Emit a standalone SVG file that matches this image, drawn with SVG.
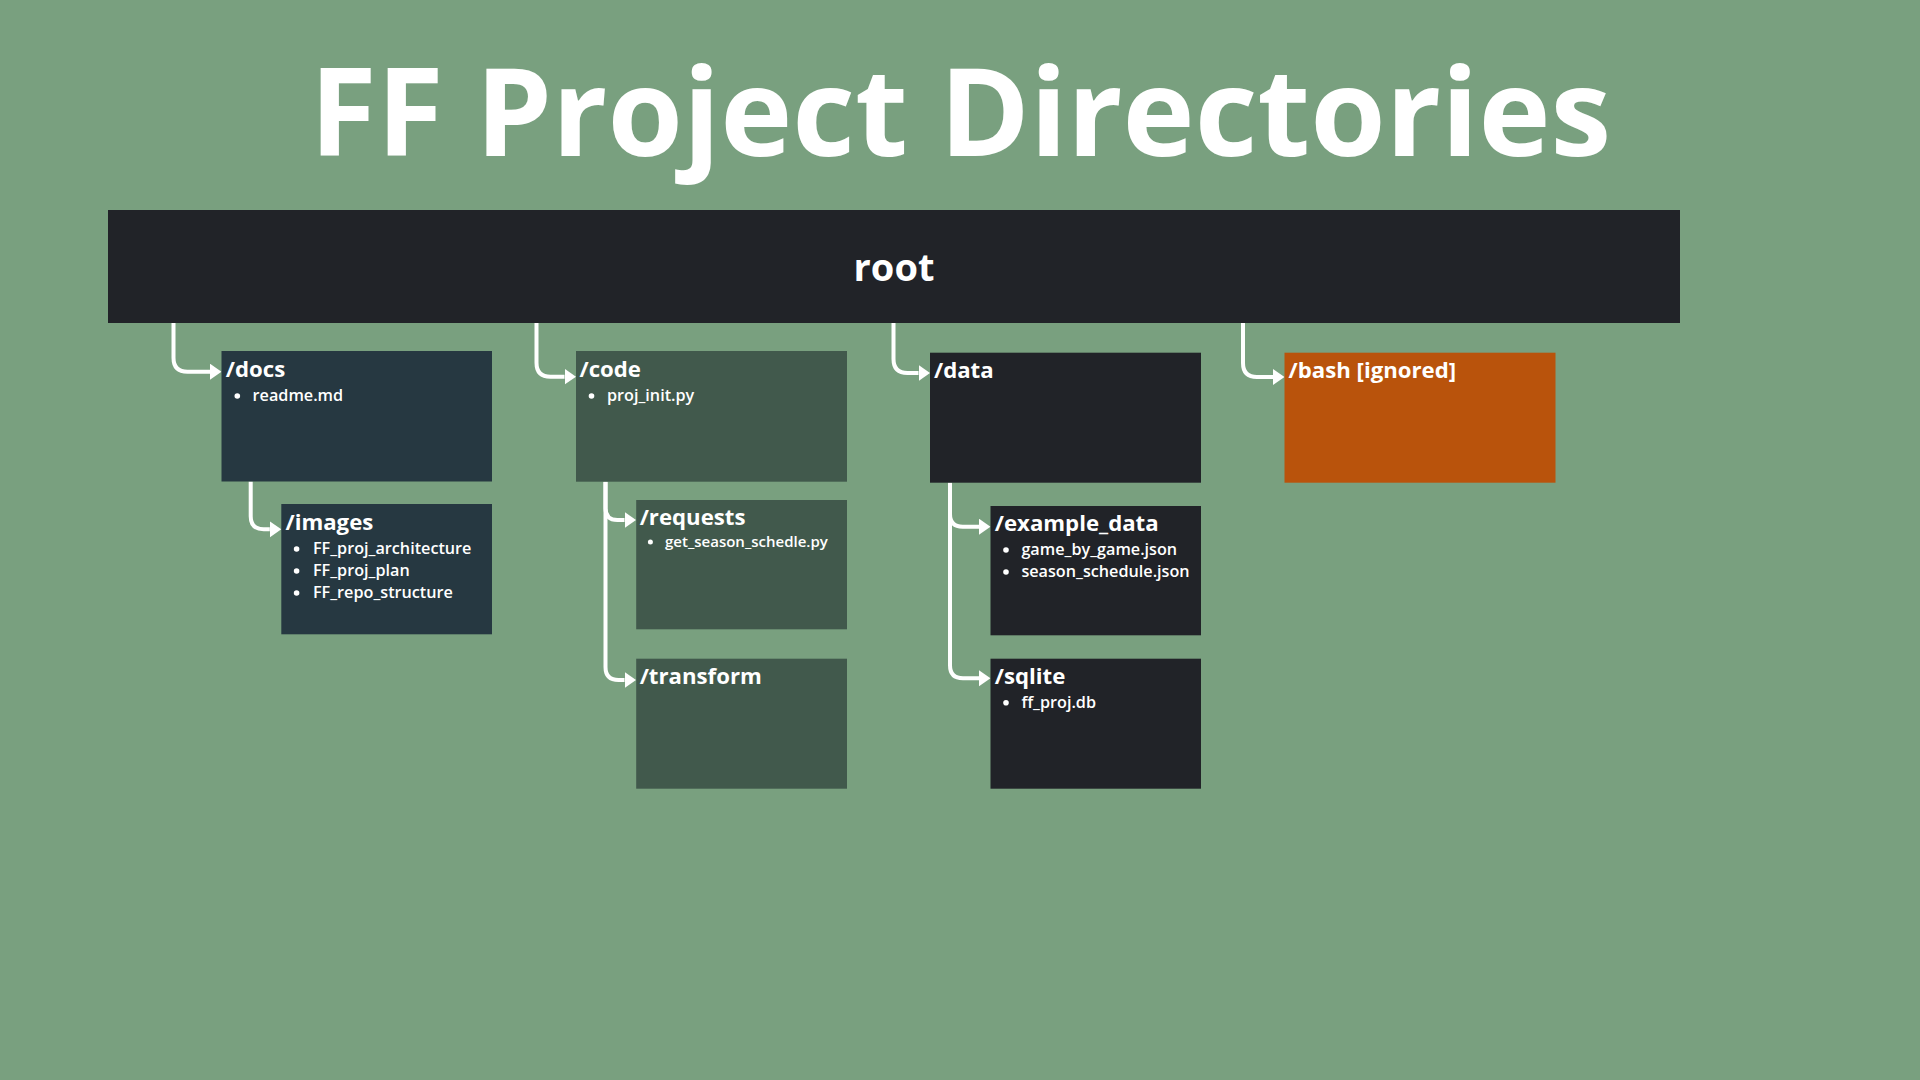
<svg xmlns="http://www.w3.org/2000/svg" width="1920" height="1080" viewBox="0 0 1920 1080">
  <defs>
    <style>
      .title { font-family: "Open Sans", "Liberation Sans", sans-serif; font-weight: 700; fill: #ffffff; }
      .hd { font-family: "Open Sans", "Liberation Sans", sans-serif; font-weight: 700; font-size: 22.2px; fill: #ffffff; }
      .it { font-family: "Open Sans", "Liberation Sans", sans-serif; font-weight: 600; font-size: 16.2px; fill: #ffffff; }
      .it2 { font-family: "Open Sans", "Liberation Sans", sans-serif; font-weight: 600; font-size: 15px; fill: #ffffff; }
      .bul { fill: #ffffff; }
      .con { fill: none; stroke: #ffffff; stroke-width: 4; stroke-linejoin: round; }
      .docs { fill: #263841; }
      .code { fill: #41594c; }
      .dark { fill: #212328; }
      .bash { fill: #b9530c; }
    </style>
    <marker id="ah" markerUnits="userSpaceOnUse" markerWidth="12" markerHeight="17" refX="0" refY="8" orient="auto">
      <polygon points="0,0 11.5,8 0,16" fill="#ffffff"/>
    </marker>
  </defs>

  <rect x="0" y="0" width="1920" height="1080" fill="#79a07f"/>

  <text class="title" x="960.5" y="156" font-size="122" text-anchor="middle">FF Project Directories</text>

  <g id="connectors">
    <path class="con" marker-end="url(#ah)" d="M173.5 323 V357.7 Q173.5 371.7 187.5 371.7 H210"/>
    <path class="con" marker-end="url(#ah)" d="M536.5 323 V362.7 Q536.5 376.7 550.5 376.7 H564.5"/>
    <path class="con" marker-end="url(#ah)" d="M893.5 323 V359 Q893.5 373 907.5 373 H918.5"/>
    <path class="con" marker-end="url(#ah)" d="M1243 323 V363 Q1243 377 1257 377 H1273"/>
    <path class="con" marker-end="url(#ah)" d="M250.7 481.5 V516.3 Q250.7 529.3 263.7 529.3 H269.8"/>
    <path class="con" marker-end="url(#ah)" d="M605.5 481.7 V508 Q605.5 520 617.5 520 H624.5"/>
    <path class="con" marker-end="url(#ah)" d="M605.5 481.7 V667 Q605.5 680 618.5 680 H624.5"/>
    <path class="con" marker-end="url(#ah)" d="M950 482.7 V514 Q950 526.7 962.7 526.7 H979"/>
    <path class="con" marker-end="url(#ah)" d="M950 482.7 V665.3 Q950 678.3 963 678.3 H979"/>
  </g>

  <g id="root">
    <rect class="dark" x="108" y="210" width="1572" height="113"/>
    <text class="title" x="894" y="281" font-size="38" text-anchor="middle">root</text>
  </g>

  <g id="docs">
    <rect class="docs" x="221.5" y="351" width="270.5" height="130.5"/>
    <text class="hd" x="225.8" y="377">/docs</text>
    <circle class="bul" cx="237.3" cy="396" r="2.8"/>
    <text class="it" x="252.6" y="401">readme.md</text>
  </g>

  <g id="images">
    <rect class="docs" x="281.3" y="504" width="210.7" height="130.3"/>
    <text class="hd" x="285.5" y="530">/images</text>
    <circle class="bul" cx="296.6" cy="549" r="2.8"/>
    <text class="it" x="313" y="554">FF_proj_architecture</text>
    <circle class="bul" cx="296.6" cy="571" r="2.8"/>
    <text class="it" x="313" y="576">FF_proj_plan</text>
    <circle class="bul" cx="296.6" cy="593" r="2.8"/>
    <text class="it" x="313" y="598">FF_repo_structure</text>
  </g>

  <g id="code">
    <rect class="code" x="576" y="351" width="271" height="130.7"/>
    <text class="hd" x="579.5" y="377">/code</text>
    <circle class="bul" cx="591.5" cy="396" r="2.8"/>
    <text class="it" x="607" y="401">proj_init.py</text>
  </g>

  <g id="requests">
    <rect class="code" x="636.2" y="500" width="210.8" height="129.3"/>
    <text class="hd" x="639.7" y="525">/requests</text>
    <circle class="bul" cx="650.4" cy="542" r="2.5"/>
    <text class="it2" x="665" y="547">get_season_schedle.py</text>
  </g>

  <g id="transform">
    <rect class="code" x="636.2" y="658.7" width="210.8" height="130"/>
    <text class="hd" x="639.7" y="683.5">/transform</text>
  </g>

  <g id="data">
    <rect class="dark" x="930" y="352.7" width="271" height="130"/>
    <text class="hd" x="934" y="377.5">/data</text>
  </g>

  <g id="example_data">
    <rect class="dark" x="990.5" y="506" width="210.5" height="129.3"/>
    <text class="hd" x="994.8" y="531">/example_data</text>
    <circle class="bul" cx="1006" cy="550" r="2.8"/>
    <text class="it" x="1021.4" y="555">game_by_game.json</text>
    <circle class="bul" cx="1006" cy="572" r="2.8"/>
    <text class="it" x="1021.4" y="577">season_schedule.json</text>
  </g>

  <g id="sqlite">
    <rect class="dark" x="990.5" y="658.7" width="210.5" height="130"/>
    <text class="hd" x="994.8" y="683.5">/sqlite</text>
    <circle class="bul" cx="1006" cy="702.7" r="2.8"/>
    <text class="it" x="1021.4" y="707.5">ff_proj.db</text>
  </g>

  <g id="bash">
    <rect class="bash" x="1284.5" y="352.7" width="271" height="130"/>
    <text class="hd" x="1288.6" y="377.5">/bash [ignored]</text>
  </g>
</svg>
